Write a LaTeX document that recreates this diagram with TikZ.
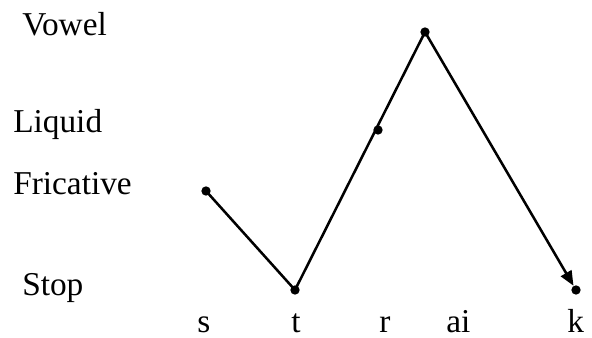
\documentclass[tikz,border=0pt]{standalone}
\usepackage{fontspec}
\setmainfont{Liberation Serif}
\usetikzlibrary{arrows.meta}
\tikzset{
  dot/.style={circle, fill=black, inner sep=0pt, minimum size=7pt},
  lbl/.style={anchor=base west, inner sep=0pt, font=\fontsize{25pt}{30pt}\selectfont},
  ln/.style={line width=1.9pt},
  ar/.style={ln, -{Triangle[length=11pt, width=9pt]}}
}
\begin{document}
\begin{tikzpicture}[x=0.75pt, y=-0.75pt]
\useasboundingbox (0,0) rectangle (592,338);
% sonority levels
\node[lbl] (vowel) at (22,36) {Vowel};
\node[lbl] (liquid) at (13,133) {Liquid};
\node[lbl] (fric) at (13,195) {Fricative};
\node[lbl] (stop) at (22,295) {Stop};
% segments
\node[lbl] (ls) at (197,332) {s};
\node[lbl] (lt) at (291,332) {t};
\node[lbl] (lr) at (379,332) {r};
\node[lbl] (lai) at (446,332) {ai};
\node[lbl] (lk) at (567,332) {k};
% points
\node[dot] (s) at (206,191) {};
\node[dot] (t) at (295,290) {};
\node[dot] (r) at (378,130) {};
\node[dot] (ai) at (425,32) {};
\node[dot] (k) at (576,290) {};
\draw[ln] (s.center)--(t.center)--(ai.center);
\draw[ar] (ai.center)--(k);
\end{tikzpicture}
\end{document}
